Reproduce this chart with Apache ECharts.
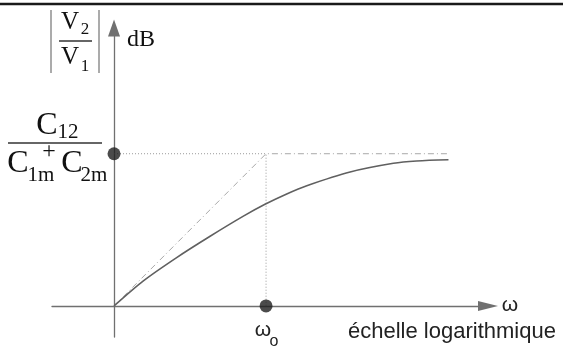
<!DOCTYPE html>
<html>
<head>
<meta charset="utf-8">
<script src="https://cdn.jsdelivr.net/npm/echarts@6/dist/echarts.min.js"></script>
<style>
html,body{margin:0;padding:0;background:#fff;}
#c{width:563px;height:346px;}
</style>
</head>
<body>
<div id="c"></div>
<script>
// Response curve (x: log-frequency units with omega_o at 1, y: gain relative to plateau)
const curveX = [0, 0.193, 0.412, 0.632, 0.851, 0.993, 1.136, 1.268, 1.553, 1.838, 1.99, 2.2];
const curveY = [0, 0.165, 0.318, 0.458, 0.590, 0.668, 0.736, 0.790, 0.880, 0.937, 0.952, 0.96];
// Asymptotic (dash-dot) approximation
const asymptoteX = [0, 1, 2.2];
const asymptoteY = [0, 1, 1];
// Dotted guide lines from the two marked points
const guideX = [0, 1, 1];
const guideY = [1, 1, 0];
// Marked points: plateau level on the y axis, corner frequency on the x axis
const markX = [0, 1];
const markY = [1, 0];

const zip = (xs, ys) => xs.map((x, i) => [x, ys[i]]);

const chart = echarts.init(document.getElementById('c'), null, {renderer: 'canvas'});

const serif = '"Liberation Serif", "DejaVu Serif", serif';
const sans = '"Liberation Sans", Arial, sans-serif';
function txt(text, x, y, size, family, color, align) {
  return {type: 'text', x: x, y: y, z: 50, style: {text: text, font: size + 'px ' + family, fill: color || '#111', align: align || 'center', verticalAlign: 'middle'}};
}
function ln(x1, y1, x2, y2, w, c) {
  return {type: 'line', z: 50, shape: {x1: x1, y1: y1, x2: x2, y2: y2}, style: {stroke: c || '#333', lineWidth: w || 1}};
}

const option = {
  animation: false,
  backgroundColor: '#ffffff',
  grid: {left: 52, right: 75, top: 28, bottom: 9, containLabel: false},
  xAxis: {
    type: 'value', min: -0.408, max: 2.46,
    axisLine: {onZero: true, symbol: ['none', 'triangle'], symbolSize: [10, 20], lineStyle: {color: '#707070', width: 1.3}},
    axisTick: {show: false}, axisLabel: {show: false}, splitLine: {show: false}
  },
  yAxis: {
    type: 'value', min: -0.204, max: 1.826,
    axisLine: {onZero: true, symbol: ['none', 'triangle'], symbolSize: [12, 17], lineStyle: {color: '#707070', width: 1.3}},
    axisTick: {show: false}, axisLabel: {show: false}, splitLine: {show: false}
  },
  series: [
    {
      type: 'line', data: zip(guideX, guideY), symbol: 'none',
      lineStyle: {color: '#9a9a9a', width: 1, type: [1, 2]}, z: 2
    },
    {
      type: 'line', data: zip(asymptoteX, asymptoteY), symbol: 'none',
      lineStyle: {color: '#a8a8a8', width: 1, type: [6, 3, 1, 3]}, z: 3
    },
    {
      type: 'line', data: zip(curveX, curveY), symbol: 'none', smooth: 0.3,
      lineStyle: {color: '#606060', width: 1.6}, z: 4
    },
    {
      type: 'scatter', data: zip(markX, markY), symbolSize: 13,
      itemStyle: {color: '#1e1e1e'}, z: 10
    }
  ],
  graphic: [
    ln(0, 4, 563, 4, 2.5, '#1a1a1a'),
    // |V2 / V1|
    ln(51, 10, 51, 73, 1.1, '#666'),
    ln(99, 10, 99, 73, 1.1, '#666'),
    ln(59, 41, 92, 41, 1.3, '#333'),
    txt('V', 70, 22, 25, serif),
    txt('2', 85, 30, 17, serif),
    txt('V', 70, 57, 25, serif),
    txt('1', 85, 67, 17, serif),
    txt('dB', 127, 40, 24, serif, '#111', 'left'),
    // C12 / (C1m + C2m)
    txt('C', 47, 126, 32, serif),
    txt('12', 68, 132, 21, serif),
    ln(8, 143, 102, 143, 1.3, '#333'),
    txt('C', 18, 164, 32, serif),
    txt('1m', 41, 175, 21, serif),
    txt('+', 49, 152, 24, serif),
    txt('C', 72, 164, 32, serif),
    txt('2m', 94, 175, 21, serif),
    // omega labels
    txt('\u03c9', 263, 330, 21, sans, '#222'),
    txt('o', 274, 342, 16, sans, '#222'),
    txt('\u03c9', 510, 305, 21, sans, '#222'),
    txt('\u00e9chelle logarithmique', 348, 332, 22, sans, '#222', 'left')
  ]
};
chart.setOption(option);
</script>
</body>
</html>
